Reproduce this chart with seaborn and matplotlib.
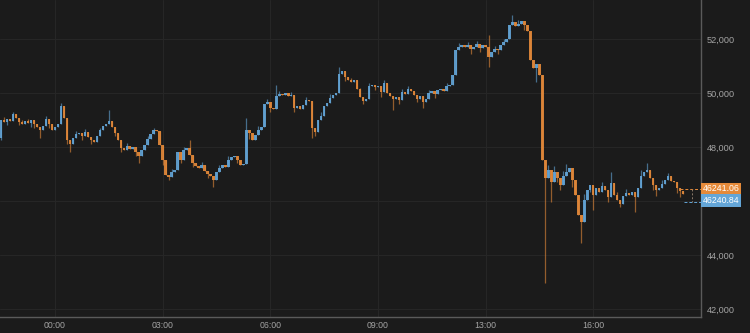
import matplotlib
matplotlib.use("Agg")
import matplotlib.pyplot as plt
from matplotlib.patches import Rectangle
from matplotlib.lines import Line2D
import numpy as np
import pandas as pd
import seaborn as sns

# ---------------- data (5-minute candles) ----------------
closes = [
    49000, 48925, 49035, 48960, 49220, 49075, 48925, 48850, 48960, 48890,
    49000, 48850, 48740, 48630, 48780, 49035, 48850, 48630, 48740, 48850,
    49520, 49075, 48260, 48110, 48330, 48480, 48520, 48410, 48555, 48370,
    48260, 48185, 48410, 48630, 48780, 48850, 48960, 48740, 48520, 48260,
    47960, 47890, 48035, 47925, 48000, 47815, 47665, 47890, 48075, 48295,
    48480, 48630, 48590, 48075, 47520, 46960, 46890, 47075, 47150, 47815,
    47520, 47890, 47960, 47705, 47405, 47295, 47220, 47335, 47110, 47000,
    46925, 46780, 47075, 47220, 47335, 47260, 47520, 47630, 47665, 47520,
    47335, 47370, 48630, 48520, 48260, 48445, 48630, 48740, 49590, 49665,
    49445, 49405, 49890, 49960, 49925, 50000, 49890, 49925, 49445, 49520,
    49405, 49555, 49740, 49705, 48705, 48555, 49000, 49145, 49520, 49630,
    49815, 49925, 50000, 50705, 50815, 50590, 50480, 50405, 50480, 50150,
    49850, 49705, 49775, 50260, 50295, 50220, 50260, 50035, 50370, 50000,
    49890, 49775, 49850, 49740, 50035, 49960, 50150, 50075, 49925, 49775,
    49890, 49665, 49775, 50000, 50075, 49960, 50110, 50150, 50075, 50260,
    50295, 50665, 51590, 51705, 51775, 51705, 51775, 51630, 51705, 51815,
    51665, 51775, 51705, 51335, 51520, 51630, 51590, 51775, 51890, 52000,
    52520, 52630, 52480, 52555, 52665, 52520, 52295, 51220, 50925, 51075,
    50665, 47520, 46850, 47150, 46705, 47075, 46850, 46590, 46925, 47075,
    47220, 46780, 46220, 45480, 45220, 46035, 46405, 46590, 46220, 46480,
    46330, 46555, 46405, 46145, 46665, 46220, 46035, 45890, 46185, 46295,
    46220, 46330, 46145, 46480, 46925, 47075, 47150, 46850, 46590, 46405,
    46480, 46630, 46780, 46925, 46740, 46705, 46480, 46370, 46241.06,
]
opens = [
    48330, 49000, 48925, 49035, 48960, 49220, 49075, 48925, 48850, 48960,
    48890, 49000, 48850, 48740, 48630, 48780, 49035, 48850, 48630, 48740,
    48850, 49520, 49075, 48260, 48110, 48330, 48480, 48520, 48410, 48555,
    48370, 48260, 48185, 48410, 48630, 48780, 48850, 48960, 48740, 48520,
    48260, 47960, 47890, 48035, 47925, 48000, 47815, 47665, 47890, 48075,
    48295, 48480, 48630, 48590, 48075, 47520, 46960, 46890, 47075, 47150,
    47815, 47520, 47890, 47960, 47705, 47405, 47295, 47220, 47335, 47110,
    47000, 46925, 46780, 47075, 47220, 47335, 47260, 47520, 47630, 47665,
    47520, 47335, 47370, 48630, 48520, 48260, 48445, 48630, 48740, 49590,
    49665, 49445, 49405, 49890, 49960, 49925, 50000, 49890, 49925, 49445,
    49520, 49405, 49555, 49740, 49705, 48705, 48555, 49000, 49145, 49520,
    49630, 49815, 49925, 50000, 50705, 50815, 50590, 50480, 50405, 50480,
    50150, 49850, 49705, 49775, 50260, 50295, 50220, 50260, 50035, 50370,
    50000, 49890, 49775, 49850, 49740, 50035, 49960, 50150, 50075, 49925,
    49775, 49890, 49665, 49775, 50000, 50075, 49960, 50110, 50150, 50075,
    50260, 50295, 50665, 51590, 51705, 51775, 51705, 51775, 51630, 51705,
    51815, 51665, 51775, 51705, 51335, 51520, 51630, 51590, 51775, 51890,
    52000, 52520, 52630, 52480, 52555, 52665, 52520, 52295, 51220, 50925,
    51075, 50665, 47520, 46850, 47150, 46705, 47075, 46850, 46590, 46925,
    47075, 47220, 46780, 46220, 45480, 45220, 46035, 46405, 46590, 46220,
    46480, 46330, 46555, 46405, 46145, 46665, 46220, 46035, 45890, 46185,
    46295, 46220, 46330, 46145, 46480, 46925, 47075, 47150, 46850, 46590,
    46405, 46480, 46630, 46780, 46925, 46740, 46705, 46480, 46370,
]
# wicks (candle index -> extreme price)
high_idx = [1, 4, 7, 9, 15, 20, 25, 28, 33, 36, 39, 42, 49, 51, 57, 61, 63, 67,
            73, 76, 82, 84, 86, 89, 92, 93, 97, 102, 107, 110, 113, 117, 120,
            123, 128, 134, 136, 143, 149, 153, 156, 159, 163, 165, 168, 171,
            173, 183, 185, 188, 189, 195, 201, 204, 206, 209, 214, 216, 221, 223]
high_val = [49100, 49295, 49000, 49050, 49150, 49630, 48600, 48650, 48720, 49370,
            48400, 48150, 48420, 48720, 47200, 48000, 48260, 47450,
            47350, 47650, 49075, 48450, 48760, 49780, 50300, 50080, 50040, 49850,
            49300, 49950, 50960, 50560, 50200,
            50370, 50480, 50150, 50260, 50120, 50370, 51850, 51900, 51930, 52150,
            51750, 52000, 52890,
            52700, 47350, 47300, 47100, 47370, 46250, 46700, 47075, 46330, 46450,
            47150, 47400, 46780, 47050]
low_idx = [0, 2, 6, 10, 11, 13, 16, 22, 23, 27, 30, 38, 40, 45, 46, 54, 56, 60,
           64, 69, 71, 79, 83, 90, 98, 104, 105, 115, 121, 125, 127, 131, 133,
           139, 141, 145, 157, 160, 163, 166, 175, 179, 182, 184, 186, 187, 191,
           194, 197, 198, 199, 203, 207, 212, 213, 218, 219, 226, 227]
low_val = [48260, 48800, 48800, 48750, 48720, 48330, 48700, 48100, 47815, 48250,
           48100, 48400, 47800, 47650, 47405, 47350, 46780, 47400,
           47250, 46850, 46520, 47400, 48300, 49300, 49300, 48330, 48400, 50450,
           49580, 50100, 49850, 49370, 49600,
           49650, 49445, 49800, 51450, 51520, 50960, 51450, 52350, 50410, 42960,
           45960, 46700, 46400, 46500,
           44440, 46350, 45670, 46250, 45950, 45780, 45600, 46300, 46420, 46200,
           46300, 46150]

time_ticks = [18, 54, 90, 126, 162, 198]
time_labels = ["00:00", "03:00", "06:00", "09:00", "13:00", "16:00"]
price_ticks = [42000, 44000, 46000, 48000, 50000, 52000]
price_labels = ["42,000", "44,000", "", "48,000", "50,000", "52,000"]
last_ask = "46241.06"
last_bid = "46240.84"

# ---------------- build table ----------------
df = pd.DataFrame({"open": opens, "close": closes})
df["idx"] = np.arange(len(df))
df["high"] = df[["open", "close"]].max(axis=1)
df["low"] = df[["open", "close"]].min(axis=1)
df.loc[high_idx, "high"] = np.maximum(df.loc[high_idx, "high"].values, high_val)
df.loc[low_idx, "low"] = np.minimum(df.loc[low_idx, "low"].values, low_val)
df["dir"] = np.where(df["close"] >= df["open"], "up", "down")

BG = "#1b1b1b"
UP = "#64a6d8"
DOWN = "#e58a3a"
GRID = "#262626"
TXT = "#a4a4a4"

sns.set_theme(style="dark", rc={
    "axes.facecolor": BG, "figure.facecolor": BG,
    "grid.color": GRID, "axes.edgecolor": "#555555",
})
plt.rcParams["font.family"] = ["Liberation Sans", "DejaVu Sans"]

fig = plt.figure(figsize=(7.5, 3.33), dpi=100)
W, H = 750, 333
ax = fig.add_axes([0, (H - 317) / H, 701 / W, 317 / H])

palette = {"up": UP, "down": DOWN}
cols = df["dir"].map(palette)

# wicks
ax.vlines(df["idx"], df["low"], df["high"], colors=cols, linewidth=0.9, alpha=0.6, zorder=2)
# bodies
ax.bar(df["idx"], df["close"] - df["open"], bottom=df["open"], width=0.85,
       color=cols, linewidth=0, alpha=0.9, zorder=3)

ax.set_xlim(-0.4, 234.05)
ax.set_ylim(41704, 53444)

ax.set_xticks(time_ticks)
ax.set_xticklabels(time_labels)
ax.set_yticks(price_ticks)
ax.set_yticklabels(price_labels)
ax.yaxis.tick_right()
ax.tick_params(axis="x", colors=TXT, labelsize=6.3, length=0, pad=3)
ax.tick_params(axis="y", colors=TXT, labelsize=6.6, length=0, pad=4)
ax.grid(True, color=GRID, linewidth=0.8)
ax.set_axisbelow(True)
for s in ["top", "left"]:
    ax.spines[s].set_visible(False)
for s in ["right", "bottom"]:
    ax.spines[s].set_color("#5a5a5a")
    ax.spines[s].set_linewidth(1.0)

# last-price markers (figure pixel coordinates)
def fx(px):
    return px / W

def fy(py):
    return (H - py) / H

fig.add_artist(Line2D([fx(680), fx(701)], [fy(189), fy(189)], color=DOWN,
                      linewidth=0.7, linestyle=(0, (3, 2)), transform=fig.transFigure))
fig.add_artist(Line2D([fx(684), fx(701)], [fy(202), fy(202)], color=UP,
                      linewidth=0.7, linestyle=(0, (3, 2)), transform=fig.transFigure))
fig.add_artist(Line2D([fx(692), fx(692)], [fy(189), fy(202)], color="#8a7a6a",
                      linewidth=0.7, linestyle=(0, (2, 2)), transform=fig.transFigure))

for y0, y1, c, t in [(183, 194, DOWN, last_ask), (194, 207, UP, last_bid)]:
    fig.add_artist(Rectangle((fx(701), fy(y1)), fx(741) - fx(701), fy(y0) - fy(y1),
                             transform=fig.transFigure, facecolor=c, edgecolor="none"))
    fig.text(fx(721), fy((y0 + y1) / 2), t, color="white", fontsize=6.3,
             ha="center", va="center")

fig.savefig("out.png", dpi=100, facecolor=BG)
